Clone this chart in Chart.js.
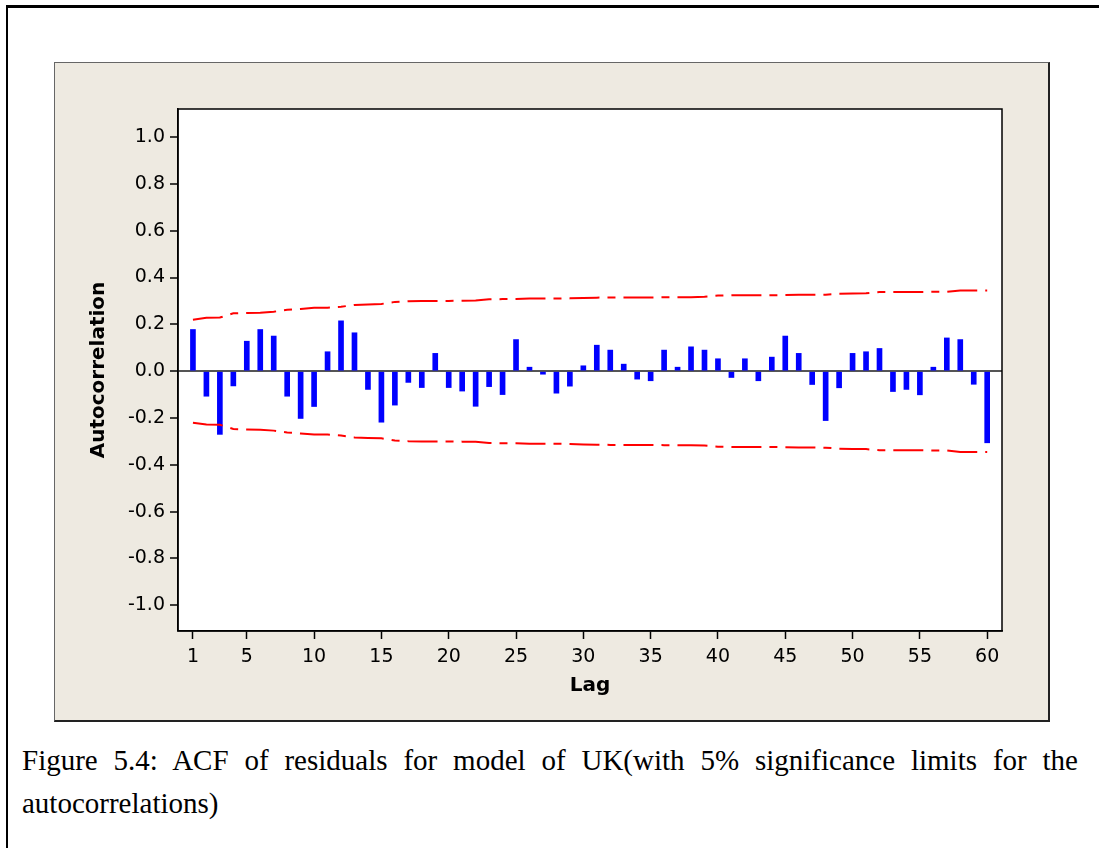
<!DOCTYPE html>
<html>
<head>
<meta charset="utf-8">
<script src="https://cdn.jsdelivr.net/npm/chart.js@4.4.1/dist/chart.umd.min.js"></script>
<style>
  html, body { margin: 0; padding: 0; background: #fff; }
  body { width: 1099px; height: 848px; position: relative; overflow: hidden; }
  #frame {
    position: absolute; left: 6px; top: 5px; width: 1100px; height: 850px;
    border-left: 2px solid #000; border-top: 3px solid #000;
  }
  #panel {
    position: absolute; left: 54px; top: 62px; width: 993px; height: 657px;
    background: #eeeae1;
    border: 1px solid #666; border-right: 2px solid #222; border-bottom: 2px solid #222;
  }
  #wrap { position: absolute; left: 55px; top: 64px; width: 994px; height: 658px; }
  #caption {
    position: absolute; left: 22px; top: 739px; width: 1056px;
    font-family: "Liberation Serif", serif; font-size: 29px; line-height: 43px;
    text-align: justify; color: #000;
  }
</style>
</head>
<body>
<div id="frame"></div>
<div id="panel"></div>
<div id="wrap"><canvas id="acfChart" width="994" height="658"></canvas></div>
<div id="caption">Figure 5.4: ACF of residuals for model of UK(with 5% significance limits for the autocorrelations)</div>

<script>
// lags 1..60
const lags = [1,2,3,4,5,6,7,8,9,10,11,12,13,14,15,16,17,18,19,20,
              21,22,23,24,25,26,27,28,29,30,31,32,33,34,35,36,37,38,39,40,
              41,42,43,44,45,46,47,48,49,50,51,52,53,54,55,56,57,58,59,60];

// autocorrelation of the residuals
const acf = [0.178,-0.107,-0.270,-0.063,0.128,0.178,0.150,-0.107,-0.202,-0.151,
             0.083,0.215,0.164,-0.078,-0.218,-0.145,-0.048,-0.070,0.076,-0.070,
             -0.085,-0.150,-0.066,-0.100,0.135,0.017,-0.013,-0.094,-0.064,0.023,
             0.111,0.090,0.030,-0.034,-0.041,0.090,0.017,0.104,0.090,0.053,
             -0.027,0.053,-0.041,0.060,0.150,0.076,-0.057,-0.211,-0.071,0.076,
             0.083,0.097,-0.087,-0.078,-0.101,0.017,0.142,0.135,-0.056,-0.306];

// 5% significance limit (upper; lower is the mirror)
const sigLimit = [0.220,0.228,0.229,0.247,0.249,0.250,0.254,0.262,0.266,0.271,
                  0.271,0.275,0.283,0.285,0.287,0.296,0.299,0.300,0.300,0.300,
                  0.301,0.302,0.307,0.308,0.308,0.310,0.310,0.310,0.311,0.313,
                  0.314,0.315,0.315,0.315,0.315,0.316,0.316,0.316,0.318,0.323,
                  0.324,0.324,0.324,0.324,0.325,0.326,0.326,0.327,0.331,0.332,
                  0.333,0.338,0.338,0.338,0.338,0.339,0.339,0.345,0.345,0.345];

const xTicks = [1,5,10,15,20,25,30,35,40,45,50,55,60];
const yTicks = [-1.0,-0.8,-0.6,-0.4,-0.2,0.0,0.2,0.4,0.6,0.8,1.0];

const tickFont = { family: 'DejaVu Sans', size: 19 };
const titleFont = { family: 'DejaVu Sans', size: 20, weight: 'bold' };

// white plot area with a black frame
const plotFrame = {
  id: 'plotFrame',
  beforeDraw(chart) {
    const a = chart.chartArea, c = chart.ctx;
    c.save();
    c.fillStyle = '#fff';
    c.fillRect(a.left, a.top, a.right - a.left, a.bottom - a.top);
    c.restore();
  },
  afterDraw(chart) {
    const a = chart.chartArea, c = chart.ctx;
    c.save();
    c.strokeStyle = '#000';
    c.lineWidth = 1.5;
    c.strokeRect(a.left, a.top, a.right - a.left, a.bottom - a.top);
    c.restore();
  }
};

const limitStyle = {
  type: 'line',
  borderColor: '#ff0000',
  borderWidth: 2,
  borderDash: [30, 8, 8, 8],
  pointRadius: 0,
  tension: 0,
  fill: false
};

const isZero = ctx => ctx.tick && Math.abs(ctx.tick.value) < 1e-9;

new Chart(document.getElementById('acfChart'), {
  data: {
    datasets: [
      Object.assign({ label: 'upper', data: lags.map((l, i) => ({ x: l, y: sigLimit[i] })) }, limitStyle),
      Object.assign({ label: 'lower', data: lags.map((l, i) => ({ x: l, y: -sigLimit[i] })) }, limitStyle),
      {
        type: 'bar',
        label: 'ACF',
        data: lags.map((l, i) => ({ x: l, y: acf[i] })),
        backgroundColor: '#0000ff',
        barThickness: 5
      }
    ]
  },
  options: {
    responsive: false,
    animation: false,
    layout: { padding: { top: 45, right: 47, left: 0, bottom: 0 } },
    plugins: { legend: { display: false }, tooltip: { enabled: false } },
    scales: {
      x: {
        type: 'linear',
        offset: false,
        min: -0.11,
        max: 61.1,
        afterBuildTicks: s => { s.ticks = xTicks.map(v => ({ value: v })); },
        afterFit: s => { s.height = 91; },
        ticks: { autoSkip: false, maxRotation: 0, padding: 7, color: '#000', font: tickFont },
        grid: { offset: false, drawOnChartArea: false, tickLength: 8, tickColor: '#000', tickWidth: 1.5 },
        border: { display: true, color: '#000', width: 1.5 },
        title: {
          display: true, text: 'Lag', color: '#000', font: titleFont,
          padding: { top: 0, bottom: 24 }
        }
      },
      y: {
        min: -1.11,
        max: 1.12,
        afterBuildTicks: s => { s.ticks = yTicks.map(v => ({ value: v })); },
        afterFit: s => { s.width = 123; },
        ticks: { padding: 5, color: '#000', font: tickFont, callback: v => v.toFixed(1) },
        grid: {
          tickLength: 8,
          tickColor: '#000',
          tickWidth: 1.5,
          color: ctx => isZero(ctx) ? '#555' : 'rgba(0,0,0,0)',
          lineWidth: ctx => isZero(ctx) ? 2 : 0
        },
        border: { display: true, color: '#000', width: 1.5 },
        title: {
          display: true, text: 'Autocorrelation', color: '#000', font: titleFont,
          padding: { top: 32, bottom: 0 }
        }
      }
    }
  },
  plugins: [plotFrame]
});
</script>
</body>
</html>
